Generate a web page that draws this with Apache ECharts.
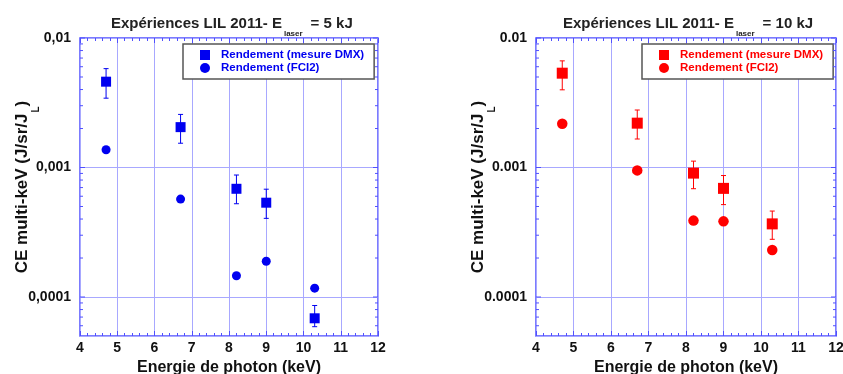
<!DOCTYPE html>
<html><head><meta charset="utf-8">
<script src="https://cdn.jsdelivr.net/npm/echarts@6/dist/echarts.min.js"></script>
<style>html,body{margin:0;padding:0;background:#fff}#c{width:843px;height:374px}</style>
</head><body><div id="c"></div>
<script>
// ---- axes ----
const xTicks = [4, 5, 6, 7, 8, 9, 10, 11, 12];
const yMin = 5e-5, yMax = 0.01;
const yTickValues = [0.0001, 0.001, 0.01];
const yTickLabels5 = ['0,0001', '0,001', '0,01'];
const yTickLabels10 = ['0.0001', '0.001', '0.01'];
const yMinorTicks = [6e-5, 7e-5, 8e-5, 9e-5,
  2e-4, 3e-4, 4e-4, 5e-4, 6e-4, 7e-4, 8e-4, 9e-4,
  2e-3, 3e-3, 4e-3, 5e-3, 6e-3, 7e-3, 8e-3, 9e-3];
const seriesNames = ['Rendement (mesure DMX)', 'Rendement (FCI2)'];

// ---- 5 kJ ----
const energy5 = [4.7, 6.7, 8.2, 9.0, 10.3];
const dmx5 = [4.6e-3, 2.05e-3, 6.85e-4, 5.35e-4, 6.85e-5];
const dmx5Low = [3.43e-3, 1.54e-3, 5.25e-4, 4.05e-4, 5.9e-5];
const dmx5High = [5.8e-3, 2.57e-3, 8.75e-4, 6.8e-4, 8.6e-5];
const fci5 = [1.37e-3, 5.7e-4, 1.46e-4, 1.89e-4, 1.17e-4];

// ---- 10 kJ ----
const energy10 = [4.7, 6.7, 8.2, 9.0, 10.3];
const dmx10 = [5.35e-3, 2.2e-3, 9.05e-4, 6.9e-4, 3.67e-4];
const dmx10Low = [3.98e-3, 1.66e-3, 6.86e-4, 5.17e-4, 2.79e-4];
const dmx10High = [6.66e-3, 2.78e-3, 1.12e-3, 8.67e-4, 4.61e-4];
const fci10 = [2.18e-3, 9.5e-4, 3.89e-4, 3.84e-4, 2.31e-4];

const frameColor = '#5050ff';
const gridLineColor = '#a8a8ff';
const BLUE = '#0000f0', RED = '#ff0000';
const FONT = 'Liberation Sans, Arial, sans-serif';

function labelFor(labels) {
  return function (v) {
    for (let i = 0; i < yTickValues.length; i++) {
      if (Math.abs(v / yTickValues[i] - 1) < 1e-6) return labels[i];
    }
    return '';
  };
}

const grids = [
  { left: 80, top: 38, width: 298, height: 298 },
  { left: 536, top: 38, width: 300, height: 298 }
];

function xAxes(gi) {
  const base = {
    type: 'value', gridIndex: gi, min: xTicks[0], max: xTicks[xTicks.length - 1], interval: 1,
    axisLine: { show: false },
    axisTick: { show: true, inside: true, length: 5, lineStyle: { color: frameColor } },
    minorTick: { show: true, splitNumber: 5, length: 3, lineStyle: { color: frameColor } }
  };
  return [
    Object.assign({}, base, {
      position: 'bottom',
      axisLabel: { show: true, margin: 5, fontSize: 14, fontWeight: 'bold', color: '#111', fontFamily: FONT },
      splitLine: { show: true, lineStyle: { color: gridLineColor, width: 1 } },
      name: 'Energie de photon (keV)', nameLocation: 'middle', nameGap: 22,
      nameTextStyle: { fontSize: 16, fontWeight: 'bold', color: '#111', fontFamily: FONT }
    }),
    Object.assign({}, base, {
      position: 'top', axisLabel: { show: false }, splitLine: { show: false }
    })
  ];
}

function yAxis(gi, labels) {
  return {
    type: 'log', logBase: 10, gridIndex: gi, min: yMin, max: yMax,
    axisLine: { show: false }, axisTick: { show: false },
    axisLabel: { formatter: labelFor(labels), margin: 9, fontSize: 14, fontWeight: 'bold', color: '#111',
      fontFamily: FONT, showMinLabel: true, showMaxLabel: true },
    splitLine: { show: true, lineStyle: { color: gridLineColor, width: 1 } },
    name: '{a|CE multi-keV (J/sr/J}{s|L}{a|)}', nameLocation: 'middle', nameGap: 48, nameMoveOverlap: false,
    nameTextStyle: {
      rich: {
        a: { fontSize: 17, fontWeight: 'bold', color: '#111', lineHeight: 20, fontFamily: FONT },
        s: { fontSize: 10, fontWeight: 'bold', color: '#111', lineHeight: 12, padding: [28, 0, 0, 1], fontFamily: FONT }
      }
    }
  };
}

function tickSeries(xi, yi, values, len) {
  return {
    type: 'custom', xAxisIndex: xi, yAxisIndex: yi, silent: true, z: 5,
    data: values.map(v => [xTicks[0], v]),
    renderItem: function (params, api) {
      const cs = params.coordSys;
      const y = api.coord([api.value(0), api.value(1)])[1];
      const st = { stroke: frameColor, lineWidth: 1 };
      return { type: 'group', children: [
        { type: 'line', shape: { x1: cs.x, y1: y, x2: cs.x + len, y2: y }, style: st },
        { type: 'line', shape: { x1: cs.x + cs.width, y1: y, x2: cs.x + cs.width - len, y2: y }, style: st }
      ] };
    }
  };
}

function errSeries(xi, yi, xs, lo, hi, color) {
  return {
    type: 'custom', xAxisIndex: xi, yAxisIndex: yi, silent: true, z: 3,
    data: xs.map((x, i) => [x, lo[i], hi[i]]),
    renderItem: function (params, api) {
      const p1 = api.coord([api.value(0), api.value(2)]);
      const p2 = api.coord([api.value(0), api.value(1)]);
      const st = { stroke: color, lineWidth: 1 };
      const w = 2.5;
      return { type: 'group', children: [
        { type: 'line', shape: { x1: p1[0], y1: p1[1], x2: p2[0], y2: p2[1] }, style: st },
        { type: 'line', shape: { x1: p1[0] - w, y1: p1[1], x2: p1[0] + w, y2: p1[1] }, style: st },
        { type: 'line', shape: { x1: p2[0] - w, y1: p2[1], x2: p2[0] + w, y2: p2[1] }, style: st }
      ] };
    }
  };
}

function scatter(xi, yi, name, xs, ys, symbol, size, color) {
  return {
    type: 'scatter', name: name, xAxisIndex: xi, yAxisIndex: yi, z: 4,
    symbol: symbol, symbolSize: size, itemStyle: { color: color, opacity: 1 },
    data: xs.map((x, i) => [x, ys[i]])
  };
}

function legend(left, color) {
  return {
    left: left, top: 44, orient: 'vertical', padding: [5, 10, 5, 17], itemGap: 1,
    itemWidth: 10, itemHeight: 10, backgroundColor: '#fff', borderColor: '#555', borderWidth: 1.5,
    selectedMode: false,
    textStyle: { color: color, fontSize: 11.5, lineHeight: 12, fontWeight: 'bold', padding: [0, 0, 0, 6], fontFamily: FONT },
    data: [
      { name: seriesNames[0], icon: 'rect', itemStyle: { color: color } },
      { name: seriesNames[1], icon: 'circle', itemStyle: { color: color } }
    ]
  };
}

function title(left, energyText) {
  return {
    left: left, top: 14, padding: 0,
    text: '{a|Expériences LIL 2011- E}{s|laser}{a|' + energyText + '}',
    textStyle: {
      rich: {
        a: { fontSize: 15, fontWeight: 'bold', color: '#222', lineHeight: 20, fontFamily: FONT },
        s: { fontSize: 8, fontWeight: 'bold', color: '#222', lineHeight: 10, padding: [20, 8, 0, 2], fontFamily: FONT }
      }
    }
  };
}

const gridOpts = grids.map(g => Object.assign({ show: true, borderColor: frameColor, borderWidth: 1.5, backgroundColor: '#fff', outerBoundsMode: 'none', containLabel: false }, g));

const option = {
  animation: false,
  backgroundColor: '#fff',
  title: [title(111, '= 5 kJ'), title(563, '= 10 kJ')],
  legend: [legend(183, BLUE), legend(642, RED)],
  grid: gridOpts,
  xAxis: xAxes(0).concat(xAxes(1)),
  yAxis: [yAxis(0, yTickLabels5), yAxis(1, yTickLabels10)],
  series: [
    tickSeries(0, 0, yMinorTicks, 3),
    tickSeries(0, 0, yTickValues, 5),
    errSeries(0, 0, energy5, dmx5Low, dmx5High, BLUE),
    scatter(0, 0, seriesNames[0], energy5, dmx5, 'rect', 10, BLUE),
    scatter(0, 0, seriesNames[1], energy5, fci5, 'circle', 9, BLUE),
    tickSeries(2, 1, yMinorTicks, 3),
    tickSeries(2, 1, yTickValues, 5),
    errSeries(2, 1, energy10, dmx10Low, dmx10High, RED),
    scatter(2, 1, seriesNames[0], energy10, dmx10, 'rect', 11, RED),
    scatter(2, 1, seriesNames[1], energy10, fci10, 'circle', 10.5, RED)
  ]
};

const chart = echarts.init(document.getElementById('c'), null, { renderer: 'canvas' });
chart.setOption(option);
</script>
</body></html>
